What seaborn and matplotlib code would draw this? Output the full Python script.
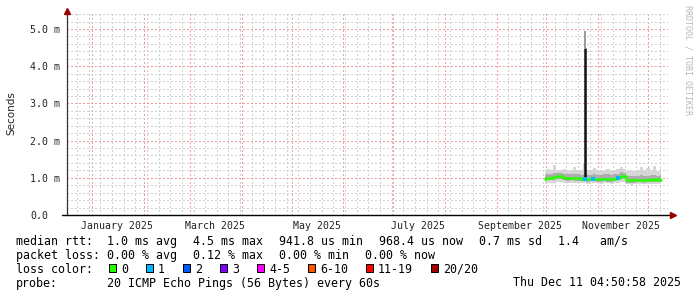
import matplotlib
matplotlib.use("Agg")
import matplotlib.pyplot as plt
import matplotlib.dates as mdates
import matplotlib.ticker as mticker
import matplotlib.transforms as mtrans
from matplotlib.patches import Rectangle
import seaborn as sns
import pandas as pd

# ---------------- data ----------------
dates = pd.date_range("2025-09-30", "2025-12-10", freq="2D")
median_ms = [0.98, 1.00, 1.00, 1.01, 1.05, 1.06, 1.00, 0.99, 1.00, 0.99, 0.99, 0.98,
             0.98, 0.97, 0.97, 0.98, 0.97, 0.97, 0.98, 0.97, 0.97, 0.98, 1.00, 1.06,
             1.05, 0.94, 0.93, 0.94, 0.95, 0.95, 0.94, 0.95, 0.96, 0.95, 0.96, 0.95]
smoke_hi_outer = [1.18, 1.25, 1.20, 1.35, 1.22, 1.20, 1.24, 1.19, 1.21, 1.30, 1.20, 1.22,
                  1.40, 1.21, 1.19, 1.26, 1.20, 1.18, 1.22, 1.25, 1.19, 1.20, 1.23, 1.28,
                  1.24, 1.19, 1.21, 1.18, 1.22, 1.30, 1.20, 1.27, 1.21, 1.33, 1.19, 1.28]
smoke_lo_outer = [0.86, 0.85, 0.87, 0.86, 0.88, 0.89, 0.86, 0.85, 0.86, 0.85, 0.86, 0.85,
                  0.85, 0.84, 0.85, 0.86, 0.85, 0.84, 0.85, 0.85, 0.84, 0.85, 0.87, 0.90,
                  0.88, 0.82, 0.81, 0.82, 0.82, 0.83, 0.82, 0.82, 0.83, 0.82, 0.83, 0.82]
smoke_hi_inner = [1.08, 1.10, 1.09, 1.12, 1.13, 1.14, 1.10, 1.09, 1.10, 1.11, 1.09, 1.08,
                  1.10, 1.08, 1.07, 1.09, 1.08, 1.07, 1.09, 1.10, 1.08, 1.09, 1.11, 1.15,
                  1.14, 1.05, 1.04, 1.05, 1.06, 1.07, 1.05, 1.06, 1.07, 1.08, 1.06, 1.07]
smoke_lo_inner = [0.92, 0.93, 0.93, 0.94, 0.97, 0.98, 0.93, 0.92, 0.93, 0.92, 0.92, 0.91,
                  0.91, 0.90, 0.91, 0.91, 0.90, 0.90, 0.91, 0.90, 0.90, 0.91, 0.93, 0.98,
                  0.97, 0.87, 0.86, 0.87, 0.88, 0.88, 0.87, 0.88, 0.89, 0.88, 0.89, 0.88]

loss1_dates = pd.to_datetime(["2025-10-24", "2025-10-29", "2025-11-13"])
loss1_median = [0.98, 0.97, 1.00]

spike_date = pd.Timestamp("2025-10-24")
spike_base_ms = 0.98
spike_median_ms = 4.5
spike_max_ms = 4.95

month_labels = ["January 2025", "March 2025", "May 2025", "July 2025",
                "September 2025", "November 2025"]
month_label_pos = pd.to_datetime(["2025-01-16", "2025-03-16", "2025-05-16",
                                  "2025-07-16", "2025-09-15", "2025-11-15"])
y_ticks = [0, 1, 2, 3, 4, 5]
y_tick_labels = ["0.0", "1.0 m", "2.0 m", "3.0 m", "4.0 m", "5.0 m"]

rtt_items = ["median rtt:", "1.0 ms avg", "4.5 ms max", "941.8 us min",
             "968.4 us now", "0.7 ms sd", "1.4   am/s"]
loss_items = ["packet loss:", "0.00 % avg", "0.12 % max", "0.00 % min", "0.00 % now"]
loss_labels = ["0", "1", "2", "3", "4-5", "6-10", "11-19", "20/20"]
loss_colors = ["#26ff00", "#00b8ff", "#0059ff", "#7e00ff", "#ff00ff",
               "#ff5500", "#ff0000", "#a10000"]
probe_text = "20 ICMP Echo Pings (56 Bytes) every 60s"
stamp_text = "Thu Dec 11 04:50:58 2025"

# ---------------- figure ----------------
sns.set_theme(style="white")
plt.rcParams['font.family'] = ['DejaVu Sans Mono', 'DejaVu Sans']

W, H = 697, 297
fig = plt.figure(figsize=(W / 100, H / 100), dpi=100)
fig.patch.set_facecolor("white")
ax = fig.add_axes([67 / W, 82 / H, 601 / W, 202 / H])
ax.set_facecolor("white")

ax.set_xlim(pd.Timestamp("2024-12-17"), pd.Timestamp("2025-12-13"))
ax.set_ylim(0, 202 / 37.2)

# grid
ax.xaxis.set_major_locator(mdates.MonthLocator(bymonthday=1))
ax.xaxis.set_minor_locator(mdates.WeekdayLocator(byweekday=mdates.MO))
ax.xaxis.set_major_formatter(mticker.NullFormatter())
ax.yaxis.set_minor_locator(mticker.MultipleLocator(0.2))
ax.set_yticks(y_ticks, y_tick_labels)
ax.grid(which="minor", color="#cfcfcf", lw=0.75, ls=(0, (1, 2)), antialiased=False)
ax.grid(which="major", color="#eda0a0", lw=0.75, ls=(0, (1, 2)), antialiased=False)
ax.set_axisbelow(True)
ax.tick_params(axis="both", which="both", length=0)
ax.tick_params(axis="y", pad=26.6, labelsize=7.1, labelcolor="#222222")
for lab in ax.get_yticklabels():
    lab.set_horizontalalignment("left")
    lab.set_family("DejaVu Sans Mono")

for s in ["top", "right", "bottom"]:
    ax.spines[s].set_visible(False)
ax.spines["left"].set_color("#333333")
ax.spines["left"].set_linewidth(0.9)
ax.plot([-5 / 601, 1.004], [0, 0], transform=ax.transAxes, color="black",
        lw=1.0, clip_on=False, zorder=6)
ax.plot([0], [1.012], marker="^", ms=4.5, color="#990000", transform=ax.transAxes,
        clip_on=False, zorder=7)
ax.plot([1.008], [0], marker=">", ms=4.5, color="#990000", transform=ax.transAxes,
        clip_on=False, zorder=7)

# smoke
ax.fill_between(dates, smoke_lo_outer, smoke_hi_outer, step="mid",
                color="#d6d6d6", lw=0, zorder=2)
ax.fill_between(dates, smoke_lo_inner, smoke_hi_inner, step="mid",
                color="#adadad", lw=0, zorder=2)

# spike
ax.vlines([spike_date], [spike_median_ms], [spike_max_ms], color="#9a9a9a", lw=1.4, zorder=3)
ax.vlines([spike_date], [spike_base_ms], [spike_median_ms], color="#111111", lw=1.8, zorder=4)

# median line
df = pd.DataFrame({"date": dates, "median": median_ms})
sns.lineplot(data=df, x="date", y="median", ax=ax, color=loss_colors[0], lw=1.8,
             drawstyle="steps-mid", zorder=5)
sns.scatterplot(x=loss1_dates, y=loss1_median, ax=ax, color=loss_colors[1],
                marker="s", s=7, linewidth=0, zorder=6)
ax.set_xlabel("")
ax.set_ylabel("")

# month labels
trans = mtrans.blended_transform_factory(ax.transData, ax.transAxes)
for pos, lab in zip(month_label_pos, month_labels):
    ax.text(pos, -14 / 202, lab, transform=trans, ha="center", va="baseline",
            fontsize=7.1, color="#222222", family="DejaVu Sans Mono")

# y label and watermark
fig.text(11 / W, 1 - 113 / H, "Seconds", rotation=90, ha="center", va="center",
         fontsize=7.5, family="DejaVu Sans", color="#222222")
fig.text(688 / W, 1 - 5 / H, "RRDTOOL / TOBI OETIKER", rotation=270, ha="center",
         va="top", fontsize=6, color="#b8b8b8", family="DejaVu Sans Mono")

# legend / stats
fs = 8.4
def put(x, ybase, s, **kw):
    fig.text(x / W, 1 - ybase / H, s, ha=kw.get("ha", "left"), va="baseline",
             fontsize=fs, family="DejaVu Sans Mono", color="black")

rtt_x = [16, 107, 193, 279, 379, 479, 558]
for x, s in zip(rtt_x, rtt_items):
    put(x, 245, s)
loss_x = [16, 107, 193, 279, 365]
for x, s in zip(loss_x, loss_items):
    put(x, 259, s)

put(16, 272.7, "loss color:")
x = 109
for lab, col in zip(loss_labels, loss_colors):
    fig.add_artist(Rectangle((x / W, 1 - 272 / H), 7 / W, 8 / H,
                             transform=fig.transFigure, facecolor=col,
                             edgecolor="black", lw=0.7))
    put(x + 12, 272.7, lab)
    x += 11 + 7 * len(lab) + 19

put(16, 286.5, "probe:")
put(107, 286.5, probe_text)
put(681, 286.5, stamp_text, ha="right")

fig.savefig("out.png", dpi=100, facecolor="white")
